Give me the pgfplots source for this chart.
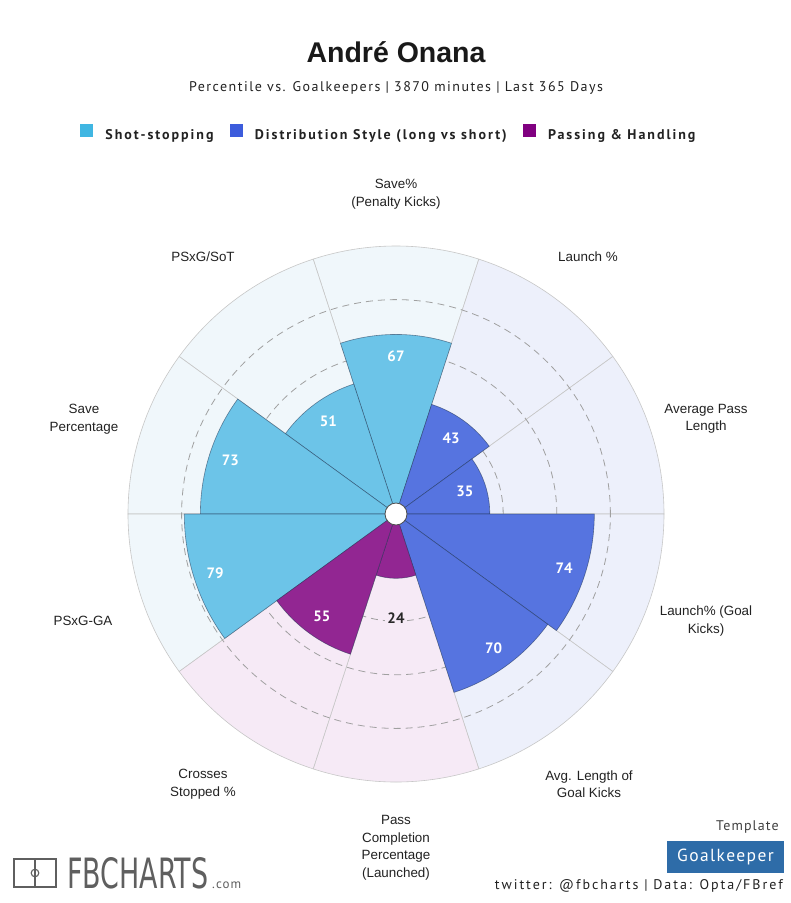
\documentclass[border=0pt]{standalone}
\usepackage{fontspec}
\usepackage{graphicx}
\usepackage{pgfplots}
\usepackage{pgfplotstable}
\pgfplotsset{compat=1.18}
\setmainfont{Liberation Sans}
\newfontfamily\ptsans{PT Sans}
\newfontfamily\ptsanssub[LetterSpace=10.5]{PT Sans}
\newfontfamily\ptsansleg[LetterSpace=14]{PT Sans}
\newfontfamily\ptsansfoot[LetterSpace=14]{PT Sans}
\newfontfamily\ptsanstmp[LetterSpace=8]{PT Sans}
\newfontfamily\djv{DejaVu Sans}
\newcommand\valfont{\ptsans\bfseries\fontsize{15}{15}\selectfont}

\definecolor{shotc}{RGB}{108,196,232}
\definecolor{distc}{RGB}{86,116,224}
\definecolor{passc}{RGB}{146,38,146}
\definecolor{shotbg}{RGB}{240,247,251}
\definecolor{distbg}{RGB}{237,240,251}
\definecolor{passbg}{RGB}{246,234,246}
\definecolor{legshot}{RGB}{64,182,226}
\definecolor{legdist}{RGB}{60,92,220}
\definecolor{legpass}{RGB}{128,0,128}
\definecolor{edgec}{RGB}{30,50,80}
\definecolor{gridc}{RGB}{160,160,160}
\definecolor{txt}{RGB}{34,34,34}
\definecolor{txtdark}{RGB}{40,40,40}
\definecolor{gkbox}{RGB}{46,108,168}
\definecolor{logoc}{RGB}{95,95,95}

\pgfdeclareplotmark{blank}{}

% Shot-stopping
\pgfplotstableread{
ang val
90 67
126 51
162 73
198 79
}\shotstop
% Distribution style
\pgfplotstableread{
ang val
54 43
18 35
-18 74
-54 70
}\distrib
% Passing & handling
\pgfplotstableread{
ang val
-90 24
-126 55
}\passing
% background sectors (percentile 100)
\pgfplotstableread{
ang val
90 100
126 100
162 100
198 100
}\bgshot
\pgfplotstableread{
ang val
54 100
18 100
-18 100
-54 100
}\bgdist
\pgfplotstableread{
ang val
-90 100
-126 100
}\bgpass
% dashed rings
\pgfplotstableread{
ang val
90 20
90 40
90 60
90 80
}\rings

\pgfplotsset{
  wedge/.style={
    data cs=polar, only marks, mark=blank, scatter, point meta=\thisrow{val},
    visualization depends on={\thisrow{ang} \as \wang},
    visualization depends on={\thisrow{val} \as \wval},
    scatter/@pre marker code/.code={%
      \pgfmathsetmacro\wrad{\wval*2.68}%
      \pgfmathsetmacro\wa{\wang-18}%
      \pgfmathsetmacro\wb{\wang+18}%
      \pgfmathsetmacro\wc{\wang+180}%
      \path[#1] (\wc:\wrad pt) -- ++(\wa:\wrad pt) arc[start angle=\wa, end angle=\wb, radius=\wrad pt] -- cycle;%
    },
    scatter/@post marker code/.code={},
  },
  wlabel/.style={
    data cs=polar, only marks, mark=blank, scatter, point meta=\thisrow{val},
    visualization depends on={\thisrow{ang} \as \wang},
    visualization depends on={\thisrow{val} \as \wval},
    scatter/@pre marker code/.code={%
      \pgfmathtruncatemacro\wlab{round(\wval)}%
      \ifdim\wval pt<30pt
        \node[font=\valfont, text=txtdark, fill=#1, inner sep=2pt] at (\wang:15*2.68pt) {\wlab};%
      \else
        \node[font=\valfont, text=white, inner sep=0pt] at (\wang+180:8*2.68pt) {\wlab};%
      \fi
    },
    scatter/@post marker code/.code={},
  },
  ring/.style={
    data cs=polar, only marks, mark=blank, scatter, point meta=\thisrow{val},
    visualization depends on={\thisrow{val} \as \wval},
    scatter/@pre marker code/.code={%
      \pgfmathsetmacro\wrad{\wval*2.68}%
      \draw[gridc, line width=0.8pt, dash pattern=on 7pt off 5pt] (0pt,-\wrad pt) circle[radius=\wrad pt];%
    },
    scatter/@post marker code/.code={},
  },
}

\begin{document}
\begin{tikzpicture}[x=1pt,y=1pt]
\path[use as bounding box] (0,0) rectangle (791,-903);
\fill[white] (0,0) rectangle (791,-903);

\begin{axis}[
  at={(396pt,-514pt)}, anchor=origin,
  x=2.68pt, y=2.68pt,
  xmin=-110, xmax=110, ymin=-110, ymax=110,
  hide axis, clip=false,
  legend columns=3,
  legend style={at={(0.486,1.146)}, anchor=center, draw=none, fill=none,
    font=\ptsansleg\bfseries\fontsize{14}{16}\selectfont, text=txt,
    nodes={inner xsep=0pt, inner ysep=1pt},
    /tikz/every odd column/.append style={column sep=13pt},
    /tikz/every even column/.append style={column sep=16pt}},
]
\addlegendimage{legend image code/.code={\fill[legshot] (0pt,-1.5pt) rectangle (12pt,10.5pt);}}
\addlegendimage{legend image code/.code={\fill[legdist] (0pt,-1.5pt) rectangle (12pt,10.5pt);}}
\addlegendimage{legend image code/.code={\fill[legpass] (0pt,-1.5pt) rectangle (12pt,10.5pt);}}
\legend{Shot-stopping, Distribution Style (long vs short), Passing \& Handling}

% background sectors
\addplot[wedge={fill=shotbg, draw=black!22, line width=0.6pt}] table[x=ang,y=val] {\bgshot};
\addplot[wedge={fill=distbg, draw=black!22, line width=0.6pt}] table[x=ang,y=val] {\bgdist};
\addplot[wedge={fill=passbg, draw=black!22, line width=0.6pt}] table[x=ang,y=val] {\bgpass};
% dashed rings
\addplot[ring] table[x=ang,y=val] {\rings};
% bars
\addplot[wedge={fill=shotc, draw=edgec, draw opacity=0.55, line width=0.6pt}] table[x=ang,y=val] {\shotstop};
\addplot[wedge={fill=distc, draw=edgec, draw opacity=0.55, line width=0.6pt}] table[x=ang,y=val] {\distrib};
\addplot[wedge={fill=passc, draw=edgec, draw opacity=0.55, line width=0.6pt}] table[x=ang,y=val] {\passing};
% value labels
\addplot[wlabel=shotbg] table[x=ang,y=val] {\shotstop};
\addplot[wlabel=distbg] table[x=ang,y=val] {\distrib};
\addplot[wlabel=passbg] table[x=ang,y=val] {\passing};
% hub
\addplot[only marks, mark=*, mark size=11pt, mark options={fill=white, draw=black!70, line width=0.8pt}] coordinates {(0,0)};
\end{axis}

% titles
\node[font=\bfseries\fontsize{28.5}{30}\selectfont, text=black!90] at (396,-52) {André Onana};
\node[font=\ptsanssub\fontsize{14}{16}\selectfont, text=txt] at (396,-88) {Percentile vs. Goalkeepers | 3870 minutes | Last 365 Days};

% category labels
\tikzset{catlab/.style={align=center, font=\fontsize{13.4}{17.5}\selectfont, text=txt, inner sep=0pt}}
\node[catlab] at (396,-194) {Save\%\\(Penalty Kicks)};
\node[catlab] at (588,-257) {Launch \%};
\node[catlab] at (706,-419) {Average Pass\\Length};
\node[catlab] at (706,-621) {Launch\% (Goal\\Kicks)};
\node[catlab] at (589,-784) {Avg. Length of\\Goal Kicks};
\node[catlab] at (396,-848) {Pass\\Completion\\Percentage\\(Launched)};
\node[catlab] at (203,-784) {Crosses\\Stopped \%};
\node[catlab] at (83,-621) {PSxG-GA};
\node[catlab] at (84,-419) {Save\\Percentage};
\node[catlab] at (203,-257) {PSxG/SoT};

% footer logo
\draw[logoc, line width=1.1pt] (14,-859) rectangle (56,-887);
\draw[logoc, line width=1.1pt] (35,-859) -- (35,-887);
\draw[logoc, line width=1.1pt] (35,-873) circle[radius=3.8];
\node[anchor=south west, inner sep=0pt, text=logoc] at (67,-889) {\resizebox{141pt}{31pt}{\djv FBCHARTS}};
\node[anchor=base west, inner sep=0pt, text=logoc, font=\ptsanstmp\fontsize{13}{14}\selectfont] at (212,-888) {.com};

% footer right
\node[anchor=base east, inner sep=0pt, text=black!75, font=\ptsanstmp\fontsize{14}{16}\selectfont] at (779,-830) {Template};
\fill[gkbox] (667,-841) rectangle (784,-873);
\node[text=white, font=\ptsanstmp\fontsize{17.5}{18}\selectfont] at (725.5,-857) {Goalkeeper};
\node[anchor=east, inner sep=0pt, text=txt, font=\ptsansfoot\fontsize{14}{15}\selectfont] at (783,-886) {twitter: @fbcharts | Data: Opta/FBref};
\end{tikzpicture}
\end{document}
